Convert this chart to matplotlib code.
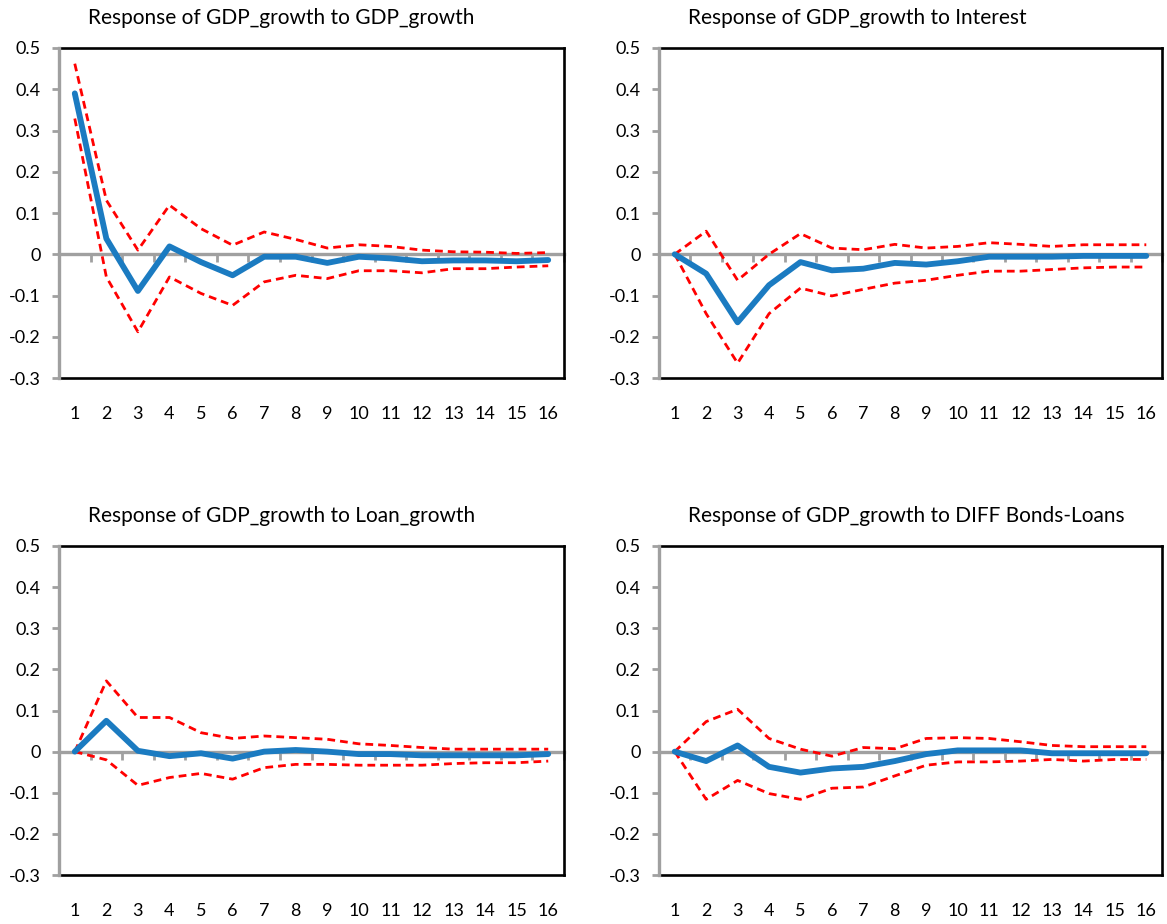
import numpy as np
import matplotlib.pyplot as plt

plt.rcParams["font.family"] = ["Lato", "DejaVu Sans"]

periods = list(range(1, 17))

titles = [
    "Response of GDP_growth to GDP_growth",
    "Response of GDP_growth to Interest",
    "Response of GDP_growth to Loan_growth",
    "Response of GDP_growth to DIFF Bonds-Loans",
]

# GDP_growth shock
gdp_mid = [0.39, 0.038, -0.089, 0.019, -0.019, -0.051, -0.006, -0.006,
           -0.021, -0.006, -0.010, -0.017, -0.015, -0.015, -0.017, -0.014]
gdp_hi = [0.462, 0.131, 0.010, 0.119, 0.062, 0.022, 0.054, 0.036,
          0.015, 0.023, 0.019, 0.010, 0.006, 0.005, 0.002, 0.004]
gdp_lo = [0.329, -0.055, -0.188, -0.055, -0.095, -0.124, -0.067, -0.051,
          -0.059, -0.040, -0.040, -0.045, -0.035, -0.035, -0.031, -0.028]

# Interest shock
int_mid = [0.0, -0.047, -0.165, -0.075, -0.019, -0.039, -0.035, -0.021,
           -0.025, -0.017, -0.006, -0.006, -0.006, -0.004, -0.004, -0.004]
int_hi = [0.0, 0.056, -0.063, 0.0, 0.050, 0.015, 0.011, 0.024,
          0.015, 0.019, 0.028, 0.024, 0.019, 0.023, 0.023, 0.023]
int_lo = [0.0, -0.144, -0.264, -0.144, -0.082, -0.101, -0.085, -0.070,
          -0.063, -0.051, -0.041, -0.041, -0.037, -0.033, -0.031, -0.031]

# Loan_growth shock
loan_mid = [0.0, 0.075, 0.002, -0.011, -0.004, -0.017, 0.0, 0.004,
            0.0, -0.006, -0.006, -0.009, -0.009, -0.009, -0.009, -0.006]
loan_hi = [0.0, 0.172, 0.083, 0.083, 0.046, 0.032, 0.038, 0.034,
           0.030, 0.019, 0.015, 0.010, 0.006, 0.006, 0.006, 0.006]
loan_lo = [0.0, -0.020, -0.082, -0.063, -0.053, -0.067, -0.039, -0.031,
           -0.031, -0.033, -0.033, -0.033, -0.029, -0.027, -0.027, -0.023]

# DIFF Bonds-Loans shock
diff_mid = [0.0, -0.023, 0.015, -0.037, -0.051, -0.041, -0.037, -0.023,
            -0.006, 0.003, 0.003, 0.003, -0.004, -0.004, -0.004, -0.004]
diff_hi = [0.0, 0.073, 0.103, 0.032, 0.006, -0.011, 0.010, 0.007,
           0.032, 0.034, 0.032, 0.024, 0.015, 0.012, 0.012, 0.012]
diff_lo = [0.0, -0.116, -0.070, -0.102, -0.116, -0.089, -0.086, -0.059,
           -0.033, -0.025, -0.025, -0.023, -0.019, -0.023, -0.019, -0.019]

series = [
    (gdp_mid, gdp_hi, gdp_lo),
    (int_mid, int_hi, int_lo),
    (loan_mid, loan_hi, loan_lo),
    (diff_mid, diff_hi, diff_lo),
]

yticks = [0.5, 0.4, 0.3, 0.2, 0.1, 0, -0.1, -0.2, -0.3]
ytick_labels = ["0.5", "0.4", "0.3", "0.2", "0.1", "0", "-0.1", "-0.2", "-0.3"]

W, H = 1167, 924
fig = plt.figure(figsize=(W / 100, H / 100), dpi=100)

# panel boxes in pixels: left, top, right, bottom
boxes = [(59, 48, 564, 378), (659, 48, 1162, 378),
         (59, 546, 564, 875), (659, 546, 1162, 875)]

blue = "#1B7BC1"
grey = "#A0A0A0"

for (l, t, r, b), title, (mid, hi, lo) in zip(boxes, titles, series):
    ax = fig.add_axes([l / W, 1 - b / H, (r - l) / W, (b - t) / H])
    ax.plot(periods, hi, color="red", lw=2.0, ls=(0, (2.8, 1.8)), zorder=3)
    ax.plot(periods, lo, color="red", lw=2.0, ls=(0, (2.8, 1.8)), zorder=3)
    ax.plot(periods, mid, color=blue, lw=4.2, solid_capstyle="round",
            solid_joinstyle="round", zorder=4)

    ax.set_xlim(0.5, 16.5)
    ax.set_ylim(-0.3, 0.5)
    ax.set_yticks(yticks)
    ax.set_yticklabels(ytick_labels)
    ax.set_xticks(periods)
    ax.set_xticklabels([str(p) for p in periods])
    ax.tick_params(axis="x", length=0, pad=20, labelsize=13)
    ax.tick_params(axis="y", length=5, width=2, color=grey, direction="out",
                   pad=8, labelsize=13)

    for s in ["top", "right", "bottom"]:
        ax.spines[s].set_color("black")
        ax.spines[s].set_linewidth(1.9)
    ax.spines["left"].set_color(grey)
    ax.spines["left"].set_linewidth(2.4)
    ax.spines["left"].set_zorder(5)

    # category axis crossing at zero, ticks between categories
    zero_ax = ax.secondary_xaxis(0.375)
    zero_ax.set_xticks(np.arange(1.5, 17, 1))
    zero_ax.set_xticklabels([])
    zero_ax.tick_params(length=6, width=2, color=grey, direction="out")
    zero_ax.spines["bottom"].set_color(grey)
    zero_ax.spines["bottom"].set_linewidth(2.4)

    ax.text(0.058, 1 + 30 / (b - t), title, transform=ax.transAxes,
            ha="left", va="center", fontsize=15)

fig.savefig("out.png", dpi=100)
